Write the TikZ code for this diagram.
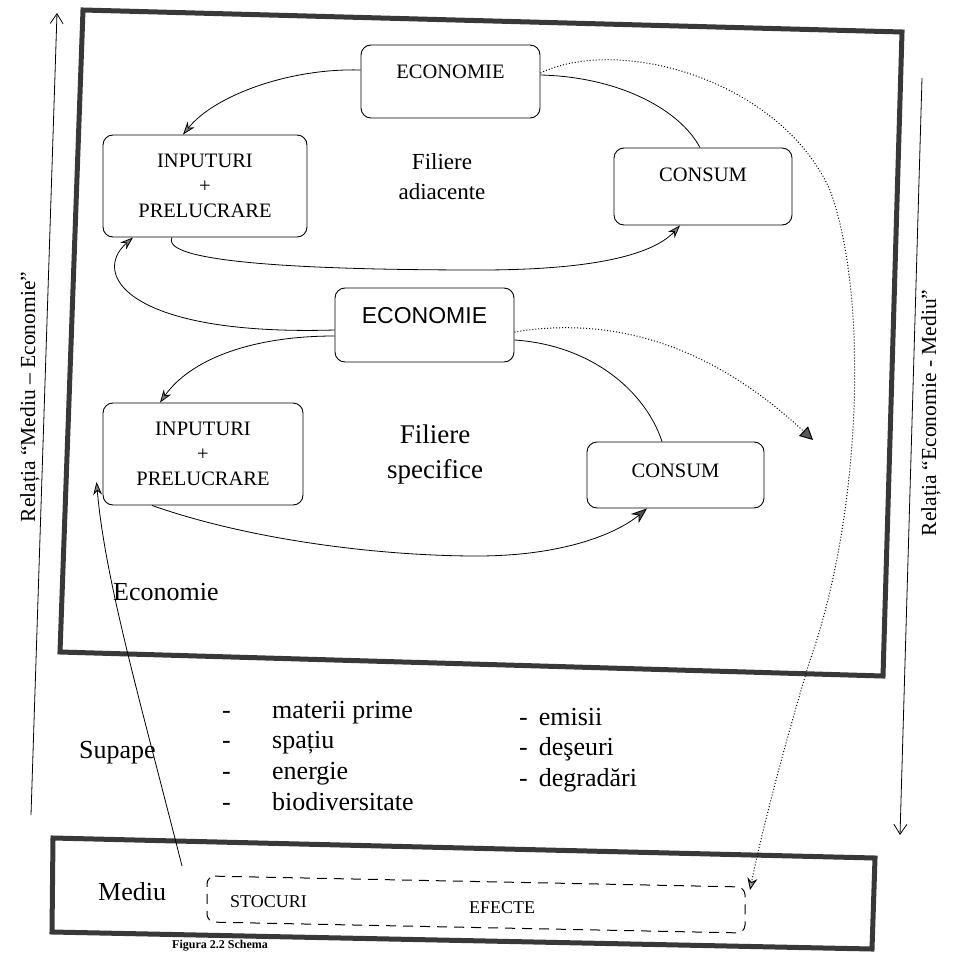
\documentclass[tikz,border=0pt]{standalone}
\usepackage{fontspec}
\setmainfont{Liberation Serif}
\newfontfamily\arialf{Liberation Sans}
\usetikzlibrary{arrows.meta}
\begin{document}
\begin{tikzpicture}[x=1pt,y=-1pt,
  frame/.style={draw=black!78, line width=5pt, line join=miter},
  boxn/.style={draw, line width=0.9pt, rounded corners=10pt, inner sep=0pt, align=center},
  f20/.style={font=\fontsize{20.5}{25}\selectfont},
  f26/.style={font=\fontsize{26}{30}\selectfont},
  conn/.style={line width=0.8pt},
  tip/.style={-{Stealth[length=13pt,width=9pt,fill=black!50]}},
  bigtip/.style={-{Stealth[length=16pt,width=12pt,fill=black!70]}},
  dots/.style={line width=1pt, dash pattern=on 1pt off 2pt},
  side/.style={line width=0.8pt, -{Straight Barb[length=10pt,width=13pt]}}
]
\useasboundingbox (0,0) rectangle (957,952);

% frames
\draw[frame] (83,10) -- (902,32) -- (883,676) -- (60,652) -- cycle;
\draw[frame] (53,838) -- (875,858) -- (872,949) -- (52,932) -- cycle;
\draw[line width=1pt, dash pattern=on 10pt off 7pt, rounded corners=8pt]
  (207,876) -- (745,887) -- (745,933) -- (207,922) -- cycle;

% boxes
\node[boxn, f20, minimum width=179pt, text height=34pt, text depth=39pt] (eA) at (450.5,81.5) {ECONOMIE};
\node[boxn, font=\arialf\fontsize{23}{27}\selectfont, minimum width=179pt, text height=35pt, text depth=39pt] (eB) at (424.5,325) {ECONOMIE};
\node[boxn, f20, minimum width=204pt, minimum height=102pt] (iA) at (205,186) {INPUTURI\\+\\PRELUCRARE};
\node[boxn, f20, minimum width=200pt, minimum height=102pt] (iB) at (203,454) {INPUTURI\\+\\PRELUCRARE};
\node[boxn, f20, minimum width=178pt, text height=34pt, text depth=43pt] (cA) at (703,186.5) {CONSUM};
\node[boxn, f20, minimum width=177pt, text height=35pt, text depth=31pt] (cB) at (675.5,475) {CONSUM};

% labels
\node[align=center, font=\fontsize{23}{30}\selectfont] (fa) at (442,177) {Filiere\\adiacente};
\node[align=center, font=\fontsize{27}{35}\selectfont] (fs) at (435,455) {Filiere\\specifice};
\node[f26, anchor=base west, inner sep=0pt] (econ) at (113,600) {Economie};
\node[f26, anchor=base west, inner sep=0pt] (sup) at (79,758) {Supape};
\node[f26, anchor=base west, inner sep=0pt] (med) at (98,900) {Mediu};
\node[font=\fontsize{18}{20}\selectfont, anchor=base west, inner sep=0pt] (sto) at (230,907) {STOCURI};
\node[font=\fontsize{18}{20}\selectfont, anchor=base west, inner sep=0pt] (efe) at (469,913) {EFECTE};

% lists
\node[f26, anchor=base west, inner sep=0pt] (d1) at (222,718) {-};
\node[f26, anchor=base west, inner sep=0pt] (d2) at (222,748) {-};
\node[f26, anchor=base west, inner sep=0pt] (d3) at (222,779) {-};
\node[f26, anchor=base west, inner sep=0pt] (d4) at (222,810) {-};
\node[f26, anchor=base west, inner sep=0pt] (m1) at (272,718) {materii prime};
\node[f26, anchor=base west, inner sep=0pt] (m2) at (272,748) {spațiu};
\node[f26, anchor=base west, inner sep=0pt] (m3) at (272,779) {energie};
\node[f26, anchor=base west, inner sep=0pt] (m4) at (272,810) {biodiversitate};
\node[f26, anchor=base west, inner sep=0pt] (r1) at (519,725) {-\hspace{11pt}emisii};
\node[f26, anchor=base west, inner sep=0pt] (r2) at (519,755) {-\hspace{11pt}deşeuri};
\node[f26, anchor=base west, inner sep=0pt] (r3) at (519,786) {-\hspace{11pt}degradări};

% side texts
\node[font=\fontsize{21.5}{24}\selectfont, rotate=90] (lt) at (30,397) {Relația “Mediu – Economie”};
\node[font=\fontsize{21.5}{24}\selectfont, rotate=90] (rt) at (931,413) {Relația “Economie - Mediu”};

% caption, in the strip under the Mediu frame
\node[font=\bfseries\fontsize{12}{14}\selectfont, anchor=base west, inner sep=0pt] (cap) at (172,948) {Figura 2.2 Schema};

% side arrows
\coordinate (la0) at (31,815);
\coordinate (la1) at (57,13);
\coordinate (ra0) at (922,78);
\coordinate (ra1) at (900,835);
\draw[side] (la0) -- (la1);
\draw[side] (ra0) -- (ra1);

% connectors, upper loop
\draw[conn, tip] ([yshift=11.5pt]eA.west) .. controls (290,68) and (215,95) .. ([xshift=-22pt]iA.north);
\draw[conn] ([yshift=6.5pt]eA.east) .. controls (620,77) and (680,110) .. ([xshift=-3pt]cA.north);
\draw[conn, tip] ([xshift=-33pt]iA.south) .. controls (160,262) and (300,270) .. (480,270)
  .. controls (580,270) and (650,258) .. ([xshift=-23pt]cA.south);

% connectors, lower loop
\draw[conn, tip] ([yshift=-5pt]eB.west) .. controls (130,336) and (90,275) .. ([xshift=-72pt]iA.south);
\draw[conn, tip] ([yshift=-11pt]eB.west) .. controls (250,336) and (190,360) .. ([xshift=-43pt]iB.north);
\draw[conn] ([yshift=-15pt]eB.east) .. controls (590,345) and (645,390) .. ([xshift=-13.5pt]cB.north);
\draw[conn, bigtip] ([xshift=-51pt]iB.south) .. controls (250,540) and (380,556) .. (477,556)
  .. controls (560,556) and (615,535) .. ([xshift=-28.5pt]cB.south);

% dotted flows
\coordinate (ef) at (750,890);
\coordinate (tri) at (813,440);
\draw[dots, -{Stealth[length=12pt,width=10pt,fill=black!35]}] ([yshift=8.5pt]eA.east)
  .. controls (620,35) and (780,80) .. (830,190)
  .. controls (870,300) and (860,520) .. (810,660)
  .. controls (780,760) and (760,840) .. (ef);
\draw[dots, -{Triangle[length=13pt,width=13pt,fill=black!65]}] ([yshift=-7pt]eB.east)
  .. controls (600,318) and (700,335) .. (tri);

% supape
\coordinate (sv) at (182,866);
\draw[conn, tip] (sv) .. controls (140,700) and (105,580) .. ([xshift=-6pt,yshift=-28pt]iB.west);
\end{tikzpicture}
\end{document}
